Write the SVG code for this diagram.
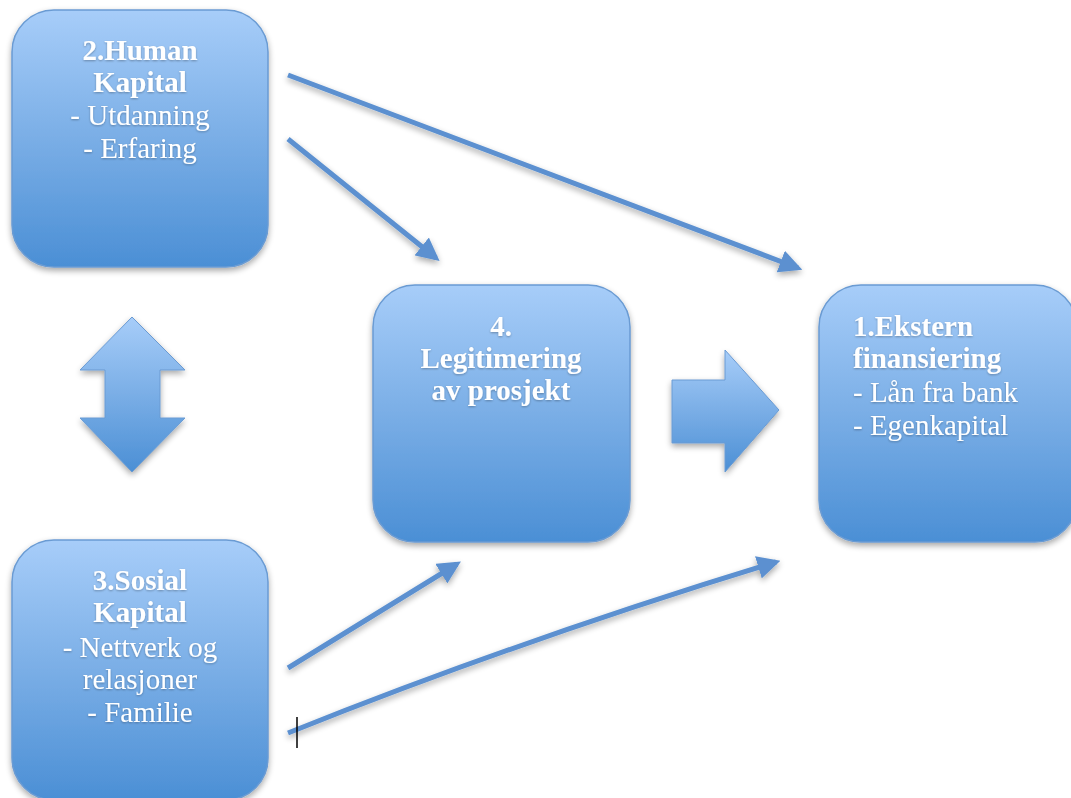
<svg xmlns="http://www.w3.org/2000/svg" width="1071" height="798" viewBox="0 0 1071 798">
<defs>
<linearGradient id="g" x1="0" y1="0" x2="0" y2="1">
<stop offset="0" stop-color="#a7cdf9"/>
<stop offset="0.5" stop-color="#7aaee6"/>
<stop offset="1" stop-color="#4b8fd5"/>
</linearGradient>
<filter id="sh" x="-10%" y="-10%" width="125%" height="125%">
<feGaussianBlur in="SourceAlpha" stdDeviation="3"/>
<feOffset dx="0" dy="3" result="b"/>
<feComponentTransfer><feFuncA type="linear" slope="0.35"/></feComponentTransfer>
<feMerge><feMergeNode/><feMergeNode in="SourceGraphic"/></feMerge>
</filter>
<filter id="ts" x="-5%" y="-20%" width="110%" height="140%">
<feGaussianBlur in="SourceAlpha" stdDeviation="1"/>
<feOffset dx="0" dy="1"/>
<feComponentTransfer><feFuncA type="linear" slope="0.3"/></feComponentTransfer>
<feMerge><feMergeNode/><feMergeNode in="SourceGraphic"/></feMerge>
</filter>
<marker id="ah" viewBox="0 0 10 10" refX="8" refY="5" markerWidth="4.6" markerHeight="4.6" orient="auto" markerUnits="strokeWidth">
<path d="M0,0 L10,5 L0,10 z" fill="#5b90d0"/>
</marker>
</defs>
<style>
.box{fill:url(#g);stroke:#6a9bd3;stroke-width:1.5;filter:url(#sh)}
.blk{fill:url(#g);stroke:#6a9bd3;stroke-width:1;filter:url(#sh)}
.t{font-family:"Liberation Serif","DejaVu Serif",serif;font-size:29px;fill:#ffffff;filter:url(#ts)}
.b{font-weight:bold}
.c{text-anchor:middle}
.ln{stroke:#5b90d0;stroke-width:5;fill:none;marker-end:url(#ah);filter:url(#sh)}
</style>
<rect width="1071" height="798" fill="#ffffff"/>

<g id="node-human">
<rect class="box" x="12" y="10" width="256" height="257" rx="42"/>
<text class="t c" x="140"><tspan class="b" x="140" y="60">2.Human</tspan><tspan class="b" x="140" y="92">Kapital</tspan><tspan x="140" y="125">- Utdanning</tspan><tspan x="140" y="158">- Erfaring</tspan></text>
</g>

<g id="node-legitimering">
<rect class="box" x="373" y="285" width="257" height="257" rx="42"/>
<text class="t c" x="501"><tspan class="b" x="501" y="336">4.</tspan><tspan class="b" x="501" y="368">Legitimering</tspan><tspan class="b" x="501" y="400">av prosjekt</tspan></text>
</g>

<g id="node-ekstern">
<rect class="box" x="819" y="285" width="258" height="257" rx="42"/>
<text class="t" x="853"><tspan class="b" x="853" y="336">1.Ekstern</tspan><tspan class="b" x="853" y="368">finansiering</tspan><tspan x="853" y="402">- Lån fra bank</tspan><tspan x="853" y="435">- Egenkapital</tspan></text>
</g>

<g id="node-sosial">
<rect class="box" x="12" y="540" width="256" height="260" rx="42"/>
<text class="t c" x="140"><tspan class="b" x="140" y="590">3.Sosial</tspan><tspan class="b" x="140" y="622">Kapital</tspan><tspan x="140" y="657">- Nettverk og</tspan><tspan x="140" y="689">relasjoner</tspan><tspan x="140" y="722">- Familie</tspan></text>
</g>

<g id="connectors">
<path class="blk" d="M132,317 L185,370 L160,370 L160,418 L185,418 L132,472 L80,418 L105,418 L105,370 L80,370 Z"/>
<path class="blk" d="M672,380 L725,380 L725,350 L779,410 L725,472 L725,443 L672,443 Z"/>
<line class="ln" x1="288" y1="75" x2="798" y2="268"/>
<line class="ln" x1="288" y1="139" x2="436" y2="258"/>
<line class="ln" x1="288" y1="668" x2="457" y2="564"/>
<path class="ln" d="M288,733 Q520,640 776,562"/>
</g>
<line x1="297" y1="717" x2="297" y2="748" stroke="#000000" stroke-width="1.5"/>
</svg>
